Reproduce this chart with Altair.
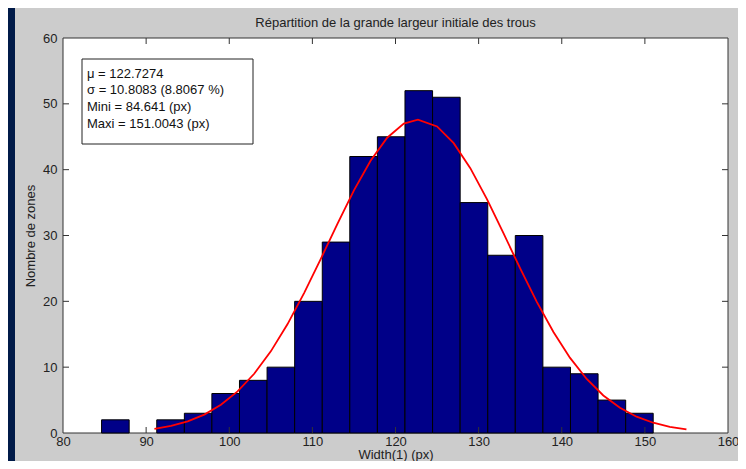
import altair as alt
import pandas as pd

FONT = "Liberation Sans"

chart_title = "Répartition de la grande largeur initiale des trous"
x_title = "Width(1) (px)"
y_title = "Nombre de zones"

bin_edges = [84.64, 87.96, 91.28, 94.60, 97.91, 101.23, 104.55, 107.87, 111.19,
             114.50, 117.82, 121.14, 124.46, 127.78, 131.10, 134.41, 137.73,
             141.05, 144.37, 147.69, 151.00]
counts = [2, 0, 2, 3, 6, 8, 10, 20, 29, 42, 45, 52, 51, 35, 27, 30, 10, 9, 5, 3]

curve_x = [91, 93, 95, 97, 99, 101, 103, 105, 107, 109, 111, 113, 115, 117, 119,
           121, 122.7, 125, 127, 129, 131, 133, 135, 137, 139, 141, 143, 145,
           147, 149, 151, 153, 155]
curve_y = [0.64, 1.08, 1.78, 2.80, 4.28, 6.31, 9.00, 12.40, 16.51, 21.25, 26.42,
           31.74, 36.86, 41.36, 44.85, 47.00, 47.60, 46.56, 44.03, 40.23, 35.52,
           30.31, 24.99, 19.92, 15.34, 11.41, 8.21, 5.70, 3.83, 2.48, 1.56, 0.94,
           0.55]

x_ticks = [80, 90, 100, 110, 120, 130, 140, 150, 160]
y_ticks = [0, 10, 20, 30, 40, 50, 60]

stats_lines = ["μ = 122.7274", "σ = 10.8083 (8.8067 %)",
               "Mini = 84.641 (px)", "Maxi = 151.0043 (px)"]

W, H = 665, 395

xs = alt.Scale(domain=[80, 160], nice=False, zero=False)
ys = alt.Scale(domain=[0, 60], nice=False)

x_axis = alt.Axis(
    values=x_ticks, title=x_title, grid=False, ticks=False, tickSize=0, domain=False,
    labelFont=FONT, labelFontSize=13, labelColor="#222222", labelPadding=2,
    labelFlush=False,
    titleFont=FONT, titleFontSize=13, titleFontWeight="normal", titleColor="#222222",
    titleX=W / 2, titleY=25.5, titleBaseline="alphabetic", titleAlign="center",
    zindex=1)
y_axis = alt.Axis(
    values=y_ticks, title=y_title, grid=False, ticks=False, tickSize=0, domain=False,
    labelFont=FONT, labelFontSize=13, labelColor="#222222", labelPadding=6,
    labelFlush=False,
    titleFont=FONT, titleFontSize=13, titleFontWeight="normal", titleColor="#222222",
    titleX=-33, titleY=H / 2, titleAngle=270, titleAlign="center",
    titleBaseline="middle", zindex=1)

bars_df = pd.DataFrame({"x": bin_edges[:-1], "x2": bin_edges[1:], "y": counts})
bars_df = bars_df[bars_df["y"] > 0]
curve_df = pd.DataFrame({"x": curve_x, "y": curve_y})
xt_df = pd.DataFrame({"x": x_ticks[1:-1]})
yt_df = pd.DataFrame({"y": y_ticks[1:-1]})
one = pd.DataFrame({"a": [0]})
txt_df = pd.DataFrame({"t": ["\n".join(stats_lines)]})
title_df = pd.DataFrame({"t": [chart_title]})

panel = alt.Chart(one).mark_rect(color="#cccccc", clip=False).encode(
    x=alt.value(-48), x2=alt.value(690), y=alt.value(-40), y2=alt.value(440))

plot_bg = alt.Chart(one).mark_rect(fill="white", stroke="#333333", strokeWidth=1).encode(
    x=alt.value(0), x2=alt.value(W), y=alt.value(0), y2=alt.value(H))

bars = alt.Chart(bars_df).mark_rect(fill="#000088", stroke="#000000", strokeWidth=1).encode(
    x=alt.X("x:Q", scale=xs, axis=x_axis),
    x2="x2:Q",
    y=alt.Y("y:Q", scale=ys, axis=y_axis),
    y2=alt.datum(0),
)

curve = alt.Chart(curve_df).mark_line(color="#ff0000", strokeWidth=1.8).encode(
    x=alt.X("x:Q", scale=xs, axis=x_axis),
    y=alt.Y("y:Q", scale=ys, axis=y_axis),
)

tick_style = dict(color="#333333", strokeWidth=1)
xt_bottom = alt.Chart(xt_df).mark_rule(**tick_style).encode(
    x=alt.X("x:Q", scale=xs, axis=x_axis), y=alt.value(H), y2=alt.value(H - 6))
xt_top = alt.Chart(xt_df).mark_rule(**tick_style).encode(
    x=alt.X("x:Q", scale=xs, axis=x_axis), y=alt.value(0), y2=alt.value(6))
yt_left = alt.Chart(yt_df).mark_rule(**tick_style).encode(
    y=alt.Y("y:Q", scale=ys, axis=y_axis), x=alt.value(0), x2=alt.value(6))
yt_right = alt.Chart(yt_df).mark_rule(**tick_style).encode(
    y=alt.Y("y:Q", scale=ys, axis=y_axis), x=alt.value(W), x2=alt.value(W - 6))

box = alt.Chart(one).mark_rect(fill="white", stroke="#222222", strokeWidth=1).encode(
    x=alt.value(19), x2=alt.value(190), y=alt.value(21), y2=alt.value(106))

box_text = alt.Chart(txt_df).mark_text(
    align="left", baseline="top", font=FONT, fontSize=13, color="#111111",
    lineBreak="\n", lineHeight=16.7).encode(
    text="t:N", x=alt.value(24), y=alt.value(29.5))

title_mark = alt.Chart(title_df).mark_text(
    align="center", baseline="middle", font=FONT, fontSize=13, color="#222222").encode(
    text="t:N", x=alt.value(W / 2), y=alt.value(-15))

chart = alt.layer(
    panel, plot_bg, bars, curve, xt_bottom, xt_top, yt_left, yt_right, box, box_text,
    title_mark
).properties(
    width=W, height=H,
    autosize=alt.AutoSizeParams(type="none"),
    padding={"left": 55, "top": 30, "right": 10, "bottom": 28},
    background="#001a48",
).configure_view(stroke=None, fill=None)

chart.save("out.html", embed_options={"renderer": "svg", "actions": False})
